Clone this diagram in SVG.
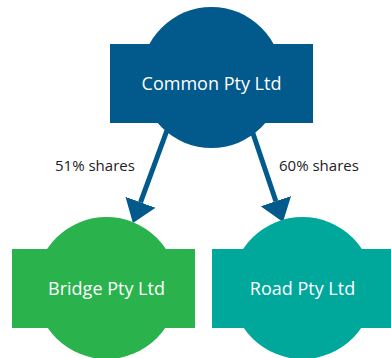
<svg xmlns="http://www.w3.org/2000/svg" width="391" height="358" viewBox="0 0 391 358">
<defs>
<style>
.blue{fill:#02598B}
.green{fill:#2AB34D}
.teal{fill:#00A89B}
.lbl{font-family:"Open Sans","Liberation Sans",sans-serif;font-size:18px;fill:#FFFFFF;text-anchor:middle}
.edge{font-family:"Open Sans","Liberation Sans",sans-serif;font-size:15px;fill:#222222}
.conn{stroke:#02598B;stroke-width:5;fill:none}
</style>
<marker id="ah" markerUnits="userSpaceOnUse" markerWidth="24" markerHeight="34" refX="0" refY="16" orient="auto" viewBox="0 0 24 32">
<path d="M0,0 L22,16 L0,32 z" fill="#02598B"/>
</marker>
</defs>
<rect width="391" height="358" fill="#FFFFFF"/>
<g id="connectors">
<line class="conn" x1="180" y1="95" x2="140.5" y2="202.3" marker-end="url(#ah)"/>
<line class="conn" x1="240" y1="95" x2="275.9" y2="201.2" marker-end="url(#ah)"/>
<text class="edge" x="55" y="171">51% shares</text>
<text class="edge" x="279" y="171">60% shares</text>
</g>
<g id="common">
<circle class="blue" cx="211.5" cy="77.5" r="70.5"/>
<rect class="blue" x="110" y="44" width="203" height="79"/>
<text class="lbl" x="211.5" y="90">Common Pty Ltd</text>
</g>
<g id="bridge">
<circle class="green" cx="106.5" cy="288" r="71"/>
<rect class="green" x="12" y="249" width="183" height="79"/>
<text class="lbl" x="106.5" y="295">Bridge Pty Ltd</text>
</g>
<g id="road">
<circle class="teal" cx="302.5" cy="288" r="71"/>
<rect class="teal" x="212" y="249" width="180" height="79"/>
<text class="lbl" x="302.5" y="295">Road Pty Ltd</text>
</g>
</svg>
